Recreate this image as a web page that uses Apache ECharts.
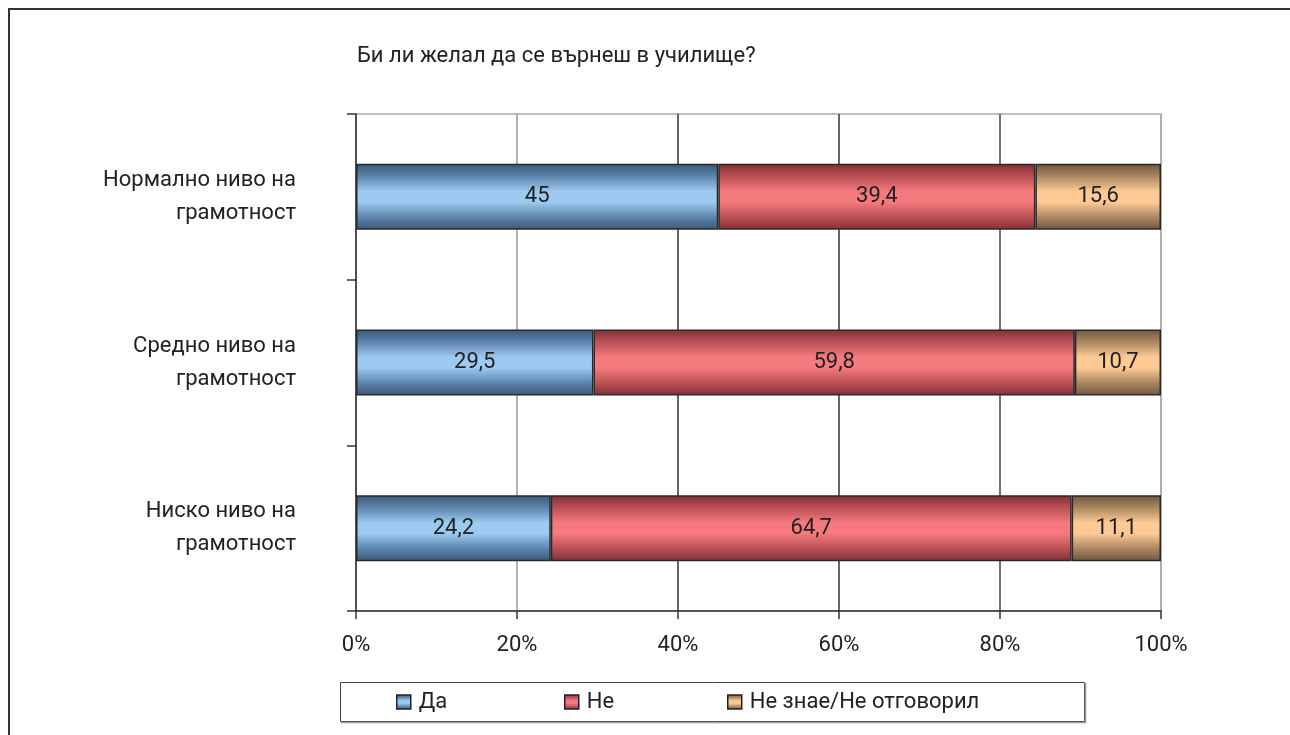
<!DOCTYPE html>
<html>
<head>
<meta charset="utf-8">
<script src="https://cdn.jsdelivr.net/npm/echarts@6/dist/echarts.min.js"></script>
<style>
  html, body { margin: 0; padding: 0; background: #fff; }
  #chart { width: 1290px; height: 735px; }
</style>
</head>
<body>
<div id="chart"></div>
<script>
// Survey answers by literacy level (percent of respondents)
const categories = [
  'Нормално ниво на\nграмотност',
  'Средно ниво на\nграмотност',
  'Ниско ниво на\nграмотност'
];
const seriesNames = ['Да', 'Не', 'Не знае/Не отговорил'];
const yesValues = [45, 29.5, 24.2];
const noValues = [39.4, 59.8, 64.7];
const dontKnowValues = [15.6, 10.7, 11.1];
const xTicks = [0, 20, 40, 60, 80, 100];

const FONT = 'Roboto, "Liberation Sans", sans-serif';
const FS = 22;

// vertical "tube" shading: dark rims, light centre
function tube(edge, mid, light) {
  return new echarts.graphic.LinearGradient(0, 0, 0, 1, [
    { offset: 0, color: edge },
    { offset: 0.18, color: mid },
    { offset: 0.42, color: light },
    { offset: 0.58, color: light },
    { offset: 0.82, color: mid },
    { offset: 1, color: edge }
  ]);
}
const fills = [
  tube('#3b5875', '#5a82aa', '#9dcaf0'),
  tube('#7e2e33', '#b84f55', '#f47a7d'),
  tube('#6f5640', '#a8845f', '#fdca95')
];
const valueSets = [yesValues, noValues, dontKnowValues];

const series = valueSets.map((vals, i) => ({
  name: seriesNames[i],
  type: 'bar',
  stack: 'total',
  barWidth: 66,
  data: vals,
  itemStyle: { color: fills[i], borderColor: '#2a2a2a', borderWidth: 1.5 },
  label: {
    show: true,
    position: 'inside',
    color: '#222',
    fontFamily: FONT,
    fontSize: FS,
    formatter: p => String(p.value).replace('.', ',')
  },
  emphasis: { disabled: true }
}));

const legendLefts = [396, 564, 727];
const legends = seriesNames.map((n, i) => ({
  data: [n],
  left: legendLefts[i],
  top: 691,
  orient: 'horizontal',
  icon: 'rect',
  itemWidth: 14,
  itemHeight: 14,
  itemGap: 0,
  padding: 0,
  selectedMode: false,
  itemStyle: { borderColor: '#222', borderWidth: 1.5 },
  textStyle: { fontFamily: FONT, fontSize: FS, color: '#222', padding: [0, 0, 0, 3] }
}));

const chart = echarts.init(document.getElementById('chart'), null, { renderer: 'canvas' });
chart.setOption({
  animation: false,
  backgroundColor: '#fff',
  title: {
    text: 'Би ли желал да се върнеш в училище?',
    left: 352,
    top: 40,
    textStyle: { fontFamily: FONT, fontSize: FS, fontWeight: 'normal', color: '#222' }
  },
  legend: legends,
  grid: {
    left: 356, right: 129, top: 114, bottom: 124,
    show: true, borderColor: '#aaaaaa', borderWidth: 1.5, backgroundColor: 'transparent'
  },
  xAxis: {
    type: 'value',
    min: 0, max: 100, interval: 20,
    axisLine: { show: true, lineStyle: { color: '#333', width: 1.5 } },
    axisTick: { show: true, length: 8, lineStyle: { color: '#333', width: 1.5 } },
    axisLabel: {
      margin: 23,
      fontFamily: FONT, fontSize: FS, color: '#222',
      formatter: v => xTicks.includes(v) ? v + '%' : ''
    },
    splitLine: {
      show: true,
      lineStyle: { color: ['#999', '#999', '#333', '#333', '#444', '#aaa'], width: 1.5 }
    }
  },
  yAxis: {
    type: 'category',
    data: categories,
    inverse: true,
    axisLine: { show: true, lineStyle: { color: '#333', width: 1.5 } },
    axisTick: { show: true, length: 9, alignWithLabel: false, lineStyle: { color: '#333', width: 1.5 } },
    axisLabel: {
      margin: 60,
      align: 'right',
      lineHeight: 33,
      padding: [4, 0, 0, 0],
      fontFamily: FONT, fontSize: FS, color: '#222'
    },
    splitLine: { show: false }
  },
  series: series,
  graphic: [
    {
      type: 'polyline',
      shape: { points: [[9, 735], [9, 9], [1290, 9]] },
      style: { stroke: '#333', lineWidth: 2, fill: null },
      silent: true
    },
    {
      type: 'rect',
      shape: { x: 340.5, y: 682.5, width: 744, height: 39 },
      style: { stroke: '#444', lineWidth: 1, fill: null },
      z: -1,
      silent: true
    },
    {
      type: 'polyline',
      shape: { points: [[341, 722.5], [1085.5, 722.5], [1085.5, 683]] },
      style: { stroke: '#999', lineWidth: 1.5, fill: null },
      silent: true
    }
  ]
});
</script>
</body>
</html>
